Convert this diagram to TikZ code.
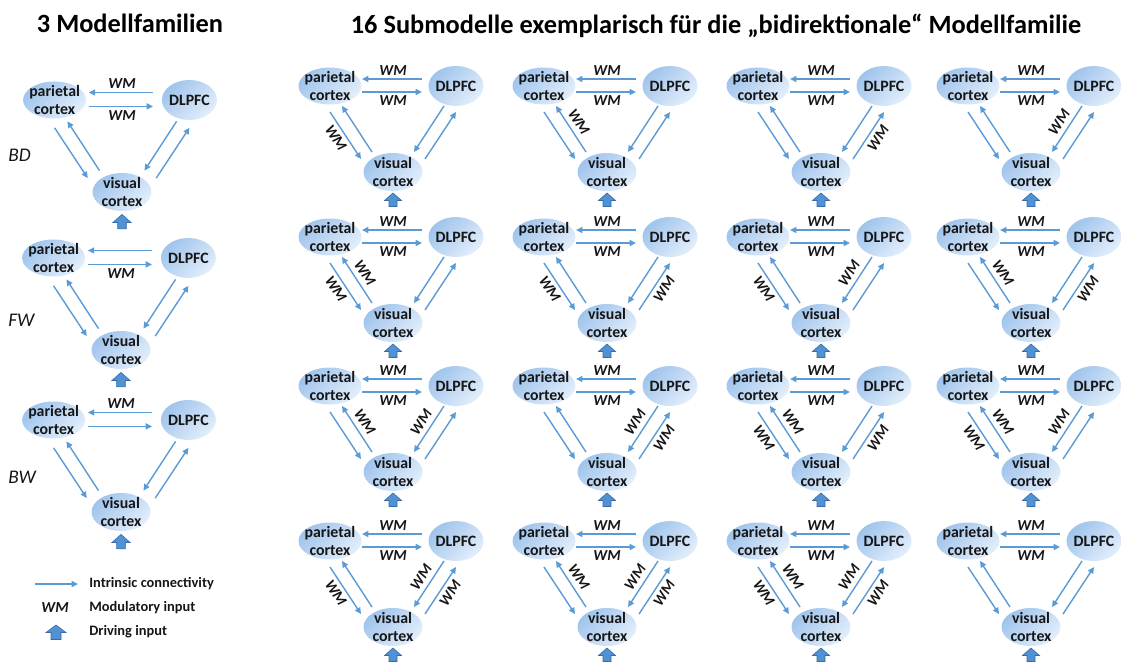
\documentclass[tikz,border=0pt]{standalone}
\usepackage{fontspec}
\setmainfont{Carlito}
\usetikzlibrary{arrows.meta,calc,shapes.geometric}

\definecolor{arrowblue}{RGB}{91,155,213}
\definecolor{drivefill}{RGB}{82,146,210}
\definecolor{drivedark}{RGB}{52,108,170}
\definecolor{ellA}{RGB}{160,196,236}
\definecolor{ellB}{RGB}{226,238,251}
\definecolor{ink}{RGB}{22,22,22}

\tikzset{
  region/.style={ellipse, inner xsep=-0.24cm, inner ysep=-0.3cm, align=center,
    text=ink, font=\fontsize{9}{10.2}\selectfont\bfseries,
    top color=ellA, bottom color=ellB, shading angle=45},
  preg/.style={region, minimum width=1.26cm, minimum height=0.74cm},
  dreg/.style={region, minimum width=1.1cm, minimum height=0.8cm},
  vreg/.style={region, minimum width=1.18cm, minimum height=0.76cm},
  conn/.style={draw=arrowblue, line width=0.8pt, -{Triangle[length=3.6pt,width=3.4pt]}},
  wm/.style={inner sep=0pt, text=ink, font=\fontsize{8.7}{9}\selectfont\bfseries\itshape},
  drive/.style={fill=drivefill, draw=drivedark, line width=0.35pt},
  title/.style={anchor=base, inner sep=0pt, text=black, font=\fontsize{15}{18}\selectfont\bfseries},
  fam/.style={anchor=west, inner sep=0pt, text=ink, font=\fontsize{11}{13}\selectfont\itshape},
  legend/.style={anchor=west, inner sep=0pt, text=ink, font=\fontsize{8.2}{10}\selectfont\bfseries}
}

% WM labels, placed relative to the visual cortex node of a motif
\newcommand\wmtop[1]{\node[wm] (#1wt) at ($(#1v)+(0,-101)$) {WM};}
\newcommand\wmbot[1]{\node[wm] (#1wb) at ($(#1v)+(0,-71)$) {WM};}
\newcommand\wmlo[1]{\node[wm, rotate=-57] (#1wa) at ($(#1v)+(-57,-34)$) {WM};}
\newcommand\wmli[1]{\node[wm, rotate=-57] (#1wbb) at ($(#1v)+(-28,-50)$) {WM};}
\newcommand\wmri[1]{\node[wm, rotate=57] (#1wc) at ($(#1v)+(28,-50)$) {WM};}
\newcommand\wmro[1]{\node[wm, rotate=57] (#1wd) at ($(#1v)+(57,-34)$) {WM};}

% one three-region motif: #1 prefix, #2/#3 position of visual cortex, #4 scale, #5 WM labels
\newcommand\motif[5]{%
\begin{scope}[shift={(#2,#3)}, scale=#4]
  \node[preg] (#1p) at (-63,-86) {parietal\\cortex};
  \node[dreg] (#1d) at (63,-86) {DLPFC};
  \node[vreg] (#1v) at (0,0) {visual\\cortex};
  % intrinsic connections
  \draw[conn] ($(#1d)+(-34,-7)$) -- ($(#1p)+(32,-7)$);
  \draw[conn] ($(#1p)+(32,6)$) -- ($(#1d)+(-34,6)$);
  \draw[conn] ($(#1p)+(0,26)$) -- ($(#1v)+(-32,-13)$);
  \draw[conn] ($(#1v)+(-21,-20)$) -- ($(#1p)+(12,20)$);
  \draw[conn] ($(#1d)+(-12,20)$) -- ($(#1v)+(21,-20)$);
  \draw[conn] ($(#1v)+(32,-13)$) -- ($(#1d)+(0,26)$);
  % driving input
  \filldraw[drive] ($(#1v)+(0,21)$) -- ++(8.5,7.5) -- ++(-4.5,0) -- ++(0,6)
     -- ++(-8,0) -- ++(0,-6) -- ++(-4.5,0) -- cycle;
  #5
\end{scope}}

\begin{document}
\begin{tikzpicture}[x=0.02cm, y=-0.02cm]
\useasboundingbox (0,0) rectangle (1121,663);

% headings
\node[title] (t1) at (130,32) {3 Modellfamilien};
\node[title] (t2) at (716,33) {16 Submodelle exemplarisch für die „bidirektionale“ Modellfamilie};

% the three model families
\motif{bd}{122}{192}{1.07}{\wmtop{bd}\wmbot{bd}}
\motif{fw}{121}{350}{1.07}{\wmbot{fw}}
\motif{bw}{121}{512}{1.07}{\wmtop{bw}}
\node[fam] (lbd) at (8,155) {BD};
\node[fam] (lfw) at (8,320) {FW};
\node[fam] (lbw) at (8,477) {BW};

% sixteen submodels
\motif{ra}{393}{172}{1}{\wmtop{ra}\wmbot{ra}\wmlo{ra}}
\motif{rb}{607}{172}{1}{\wmtop{rb}\wmbot{rb}\wmli{rb}}
\motif{rc}{821}{172}{1}{\wmtop{rc}\wmbot{rc}\wmro{rc}}
\motif{rd}{1031}{172}{1}{\wmtop{rd}\wmbot{rd}\wmri{rd}}

\motif{sa}{393}{323}{1}{\wmtop{sa}\wmbot{sa}\wmlo{sa}\wmli{sa}}
\motif{sb}{607}{323}{1}{\wmtop{sb}\wmbot{sb}\wmlo{sb}\wmro{sb}}
\motif{sc}{821}{323}{1}{\wmtop{sc}\wmbot{sc}\wmlo{sc}\wmri{sc}}
\motif{sd}{1031}{323}{1}{\wmtop{sd}\wmbot{sd}\wmli{sd}\wmro{sd}}

\motif{ta}{393}{472}{1}{\wmtop{ta}\wmbot{ta}\wmli{ta}\wmri{ta}}
\motif{tb}{607}{472}{1}{\wmtop{tb}\wmbot{tb}\wmri{tb}\wmro{tb}}
\motif{tc}{821}{472}{1}{\wmtop{tc}\wmbot{tc}\wmlo{tc}\wmli{tc}\wmro{tc}}
\motif{td}{1031}{472}{1}{\wmtop{td}\wmbot{td}\wmlo{td}\wmli{td}\wmri{td}}

\motif{ua}{393}{627}{1}{\wmtop{ua}\wmbot{ua}\wmlo{ua}\wmri{ua}\wmro{ua}}
\motif{ub}{607}{627}{1}{\wmtop{ub}\wmbot{ub}\wmli{ub}\wmri{ub}\wmro{ub}}
\motif{uc}{821}{627}{1}{\wmtop{uc}\wmbot{uc}\wmlo{uc}\wmli{uc}\wmri{uc}\wmro{uc}}
\motif{ud}{1031}{627}{1}{\wmtop{ud}\wmbot{ud}}

% legend
\coordinate (lgs) at (35,584);
\coordinate (lge) at (78,584);
\draw[conn] (lgs) -- (lge);
\node[legend] (lg1) at (89,584) {Intrinsic connectivity};
\node[wm] (lgwm) at (55,608) {WM};
\node[legend] (lg2) at (89,608) {Modulatory input};
\filldraw[drive] (56,625) -- ++(10,7.5) -- ++(-5,0) -- ++(0,7) -- ++(-10,0)
   -- ++(0,-7) -- ++(-5,0) -- cycle;
\node[legend] (lg3) at (89,632) {Driving input};
\end{tikzpicture}
\end{document}
